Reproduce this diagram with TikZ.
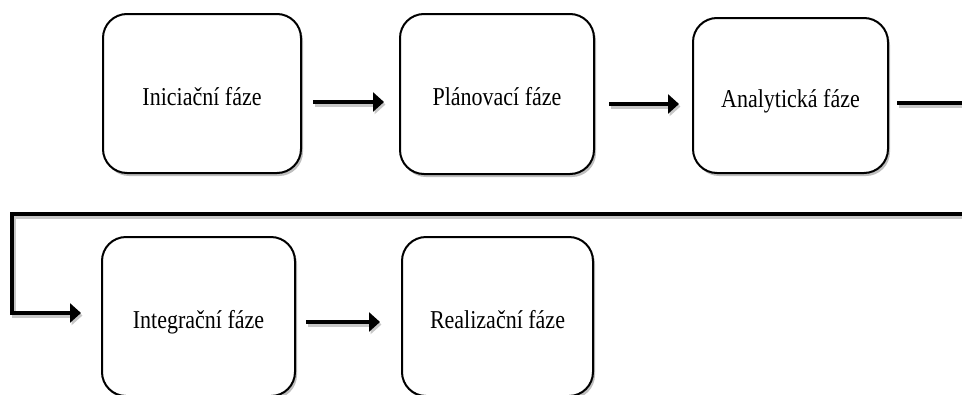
\documentclass[tikz,border=0pt]{standalone}
\usepackage{fontspec}
\usepackage{graphicx}
\setmainfont{Liberation Serif}
\usetikzlibrary{arrows.meta,shadows}
\newcommand{\phtxt}[1]{\scalebox{1}[1.17]{#1}}
\begin{document}
\begin{tikzpicture}[x=1pt,y=-1pt,
  phase/.style={draw=black, line width=2pt, rounded corners=24pt, fill=white,
    drop shadow={shadow xshift=2pt, shadow yshift=-3pt, fill=black, opacity=0.25},
    font=\fontsize{22}{26}\selectfont, text height=23pt, text depth=0pt, inner sep=0pt},
  conn/.style={line width=4pt, draw=black,
    preaction={draw=black!22, line width=4pt, transform canvas={shift={(1.5pt,-2.5pt)}}}},
  tip/.style={-{Triangle[length=11pt,width=19pt]}}
]
\useasboundingbox (0,0) rectangle (962,394);
\clip (0,0) rectangle (962,394);
\fill[white] (0,0) rectangle (962,394);
\node[phase, minimum width=198pt, minimum height=159pt] (b1) at (202,93.5) {\phtxt{Iniciační fáze}};
\node[phase, minimum width=194pt, minimum height=160pt] (b2) at (497,94) {\phtxt{Plánovací fáze}};
\node[phase, minimum width=195pt, minimum height=155pt] (b3) at (790.5,95.5) {\phtxt{Analytická fáze}};
\node[phase, minimum width=193pt, minimum height=159pt] (b4) at (198.5,316.5) {\phtxt{Integrační fáze}};
\node[phase, minimum width=191pt, minimum height=159pt] (b5) at (497.5,316.5) {\phtxt{Realizační fáze}};
\coordinate (rt) at (975,103);
\coordinate (rr) at (975,214);
\coordinate (ll) at (12,214);
\draw[conn, tip] ([xshift=11pt,yshift=-8.5pt]b1.east) -- ([xshift=-15pt,yshift=-8pt]b2.west);
\draw[conn, tip] ([xshift=14pt,yshift=-10pt]b2.east) -- ([xshift=-13pt,yshift=-8.5pt]b3.west);
\draw[conn] ([xshift=8pt,yshift=-7.5pt]b3.east) -- (rt);
\draw[conn, tip, line join=miter] (rr) -- (ll) |- ([xshift=-20pt,yshift=3.5pt]b4.west);
\draw[conn, tip] ([xshift=10pt,yshift=-5.5pt]b4.east) -- ([xshift=-21pt,yshift=-5.5pt]b5.west);
\end{tikzpicture}
\end{document}
